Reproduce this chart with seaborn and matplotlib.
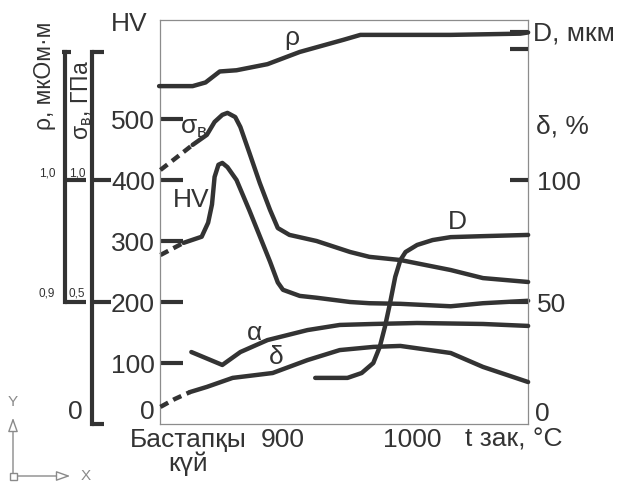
import matplotlib
matplotlib.use('Agg')
import matplotlib.pyplot as plt
from matplotlib.lines import Line2D
from matplotlib.patches import Rectangle
import seaborn as sns

# quench temperature, °C
rho_t = [804, 830, 840, 851, 864, 888, 913, 947, 960, 1030, 1084, 1090]
rho = [1.077, 1.077, 1.080, 1.089, 1.090, 1.095, 1.105, 1.115, 1.119, 1.119, 1.120, 1.121]  # мкОм·м

sig_dash_t = [805, 816, 830]
sig_dash = [1.041, 1.086, 1.144]  # ГПа
sig_t = [830, 841, 847, 853, 857, 863, 867, 874, 882, 890, 896, 905, 926, 952, 967, 991, 1030, 1055, 1090]
sig = [1.144, 1.185, 1.238, 1.267, 1.275, 1.258, 1.217, 1.111, 0.988, 0.877, 0.803, 0.775,
       0.750, 0.705, 0.685, 0.672, 0.631, 0.598, 0.582]

hv_dash_t = [805, 814, 823]
hv_dash = [277, 287, 297]
hv_t = [823, 830, 837, 842, 845, 847, 850, 853, 857, 864, 874, 882, 890, 896, 900, 913, 926, 952,
        967, 991, 1030, 1055, 1090]
hv = [297, 302, 307, 330, 360, 405, 425, 428, 421, 400, 350, 308, 266, 232, 220, 210, 207, 200,
      198, 197, 193, 198, 202]

# grain size D, drawn on the right-hand scale
d_t = [925, 950, 961, 970, 975, 979, 983, 987, 991, 995, 1004, 1016, 1030, 1055, 1090]
d_val = [18.9, 18.9, 20.9, 25.0, 31.6, 39.8, 49.6, 60.3, 67.2, 70.5, 73.4, 75.4, 76.6, 77.0, 77.5]

alpha_t = [829, 853, 867, 888, 919, 944, 970, 1004, 1055, 1090]
alpha = [29.5, 24.2, 29.5, 34.4, 38.5, 40.6, 41.0, 41.4, 41.0, 40.2]

delta_dash_t = [805, 816, 828]
delta_dash = [7.0, 10.2, 13.1]  # %
delta_t = [828, 841, 861, 892, 919, 944, 970, 991, 1030, 1055, 1090]
delta = [13.1, 15.2, 18.9, 20.9, 26.2, 30.3, 31.6, 32.0, 29.1, 23.4, 17.2]

hv_ticks = [100, 200, 300, 400, 500]
right_ticks = [50, 100]
d_ticks = [153.7, 160.7]
x_ticks = [826.4, 900, 1000]
x_labels = ['Бастапқы\nкүй', '900', '1000']

sns.set_theme(style='white')
plt.rcParams['font.family'] = ['Liberation Sans', 'DejaVu Sans']
plt.rcParams['mathtext.fontset'] = 'custom'
plt.rcParams['mathtext.rm'] = 'Liberation Sans'
plt.rcParams['mathtext.it'] = 'Liberation Sans'

INK = '#333333'
FRAME = '#8c8c8c'
LW = 3.2
FS = 19
W, H = 621, 487


def fpx(x, y):
    return x / W, 1 - y / H


fig = plt.figure(figsize=(W / 100, H / 100), dpi=100)
fig.patch.set_facecolor('white')
ax = fig.add_axes([160 / W, 63 / H, 368 / W, 404 / H])
ax_d = ax.twinx()
ax_s = ax.twinx()
ax_r = ax.twinx()

line_kw = dict(color=INK, linewidth=LW, estimator=None, sort=False, clip_on=False,
               solid_joinstyle='round', solid_capstyle='round')
dash_kw = dict(color=INK, linewidth=LW, estimator=None, sort=False, clip_on=False,
               linestyle=(0, (2.0, 1.3)))

sns.lineplot(x=rho_t, y=rho, ax=ax_r, **line_kw)
sns.lineplot(x=sig_dash_t, y=sig_dash, ax=ax_s, **dash_kw)
sns.lineplot(x=sig_t, y=sig, ax=ax_s, **line_kw)
sns.lineplot(x=hv_dash_t, y=hv_dash, ax=ax, **dash_kw)
sns.lineplot(x=hv_t, y=hv, ax=ax, **line_kw)
sns.lineplot(x=d_t, y=d_val, ax=ax_d, **line_kw)
sns.lineplot(x=alpha_t, y=alpha, ax=ax_d, **line_kw)
sns.lineplot(x=delta_dash_t, y=delta_dash, ax=ax_d, **dash_kw)
sns.lineplot(x=delta_t, y=delta, ax=ax_d, **line_kw)

ax.set_xlim(804.7, 1089.9)
ax.set_ylim(0, 662.3)
ax_d.set_ylim(0, 165.6)
ax_s.set_ylim(0, 1.6557)
ax_r.set_ylim(0.8, 1.1312)

for a in (ax, ax_d, ax_s, ax_r):
    a.set_xlabel('')
    a.set_ylabel('')

# main frame
for sp in ax.spines.values():
    sp.set_color(FRAME)
    sp.set_linewidth(0.9)
for a in (ax_d, ax_s, ax_r):
    for sp in a.spines.values():
        sp.set_visible(False)

# HV axis
ax.set_yticks(hv_ticks, [str(v) for v in hv_ticks])
ax.tick_params(axis='y', left=True, direction='in', length=16.5, width=3, color=INK,
               labelsize=FS, labelcolor=INK, pad=3.6)
ax.set_xticks(x_ticks, x_labels)
ax.tick_params(axis='x', length=0, labelsize=FS, labelcolor=INK, pad=3)
for lbl in ax.get_xticklabels():
    lbl.set_linespacing(0.95)

# δ / D axis on the right
ax_d.set_yticks(right_ticks + d_ticks, [str(v) for v in right_ticks] + ['', ''])
ax_d.tick_params(axis='y', right=True, direction='in', length=13, width=3, color=INK,
                 labelsize=FS, labelcolor=INK, pad=6.5)

# σв bracket axis
ax_s.yaxis.tick_left()
sp = ax_s.spines['left']
sp.set_visible(True)
sp.set_position(('outward', 68 * 0.72))
sp.set_bounds(0, 1.525)
sp.set_linewidth(3)
sp.set_color(INK)
ax_s.set_yticks([0.5, 1.0], ['', ''])
ax_s.tick_params(axis='y', left=True, direction='in', length=14, width=3, color=INK)

# ρ bracket axis
ax_r.yaxis.tick_left()
sp = ax_r.spines['left']
sp.set_visible(True)
sp.set_position(('outward', 95 * 0.72))
sp.set_bounds(0.9, 1.1049)
sp.set_linewidth(3)
sp.set_color(INK)
ax_r.set_yticks([0.9, 1.0], ['', ''])
ax_r.tick_params(axis='y', left=True, direction='in', length=15, width=3, color=INK)

# bracket caps
for x0, x1, y in [(62, 71, 52), (92, 104, 52), (92, 104, 424)]:
    (a0, b0), (a1, b1) = fpx(x0, y), fpx(x1, y)
    fig.add_artist(Line2D([a0, a1], [b0, b1], transform=fig.transFigure, color=INK,
                          lw=3, solid_capstyle='butt'))

# small bracket tick labels
for txt, x, y in [('1,0', 47, 173), ('0,9', 47, 293), ('1,0', 77, 173), ('0,5', 77, 293)]:
    fig.text(*fpx(x, y), txt, fontsize=8.5, color=INK, ha='center', va='center')

# zero labels
for x, y in [(147, 412), (75, 412), (542, 414)]:
    fig.text(*fpx(x, y), '0', fontsize=FS, color=INK, ha='center', va='center')

# axis titles
fig.text(*fpx(129, 24), 'HV', fontsize=FS, color=INK, ha='center', va='center')
fig.text(*fpx(44, 76), 'ρ, мкОм·м', fontsize=16.5, color=INK, rotation=90,
         ha='center', va='center')
fig.text(*fpx(82, 100), r'$\mathregular{σ_{в}}$, ГПа', fontsize=16.5, color=INK, rotation=90,
         ha='center', va='center')
fig.text(*fpx(533, 33), 'D, мкм', fontsize=FS, color=INK, ha='left', va='center')
fig.text(*fpx(536, 127), 'δ, %', fontsize=FS, color=INK, ha='left', va='center')
fig.text(*fpx(514, 440), 't зак, °C', fontsize=FS, color=INK, ha='center', va='center')

# curve labels
for txt, t, y in [('ρ', 907, 633), (r'$\mathregular{σ_{в}}$', 831, 485), ('HV', 829, 367),
                  ('D', 1035, 331), ('α', 878, 149), ('δ', 895, 110)]:
    ax.text(t, y, txt, fontsize=FS, color=INK, ha='center', va='center')

# UCS icon, bottom left
ucs = '#8a8a8a'
ax.annotate('', xy=(13, 487 - 415), xytext=(13, 487 - 476), xycoords='figure pixels',
            textcoords='figure pixels',
            arrowprops=dict(arrowstyle='-|>,head_length=0.7,head_width=0.25', fc='white',
                            ec=ucs, lw=1))
ax.annotate('', xy=(73, 487 - 476), xytext=(13, 487 - 476), xycoords='figure pixels',
            textcoords='figure pixels',
            arrowprops=dict(arrowstyle='-|>,head_length=0.7,head_width=0.25', fc='white',
                            ec=ucs, lw=1))
fig.add_artist(Rectangle(fpx(10, 480), 7 / W, 7 / H, transform=fig.transFigure, fc='white',
                         ec=ucs, lw=1))
fig.text(*fpx(13, 402), 'Y', fontsize=11, color=ucs, ha='center', va='center')
fig.text(*fpx(86, 476), 'X', fontsize=11, color=ucs, ha='center', va='center')

fig.savefig('out.png', dpi=100)
